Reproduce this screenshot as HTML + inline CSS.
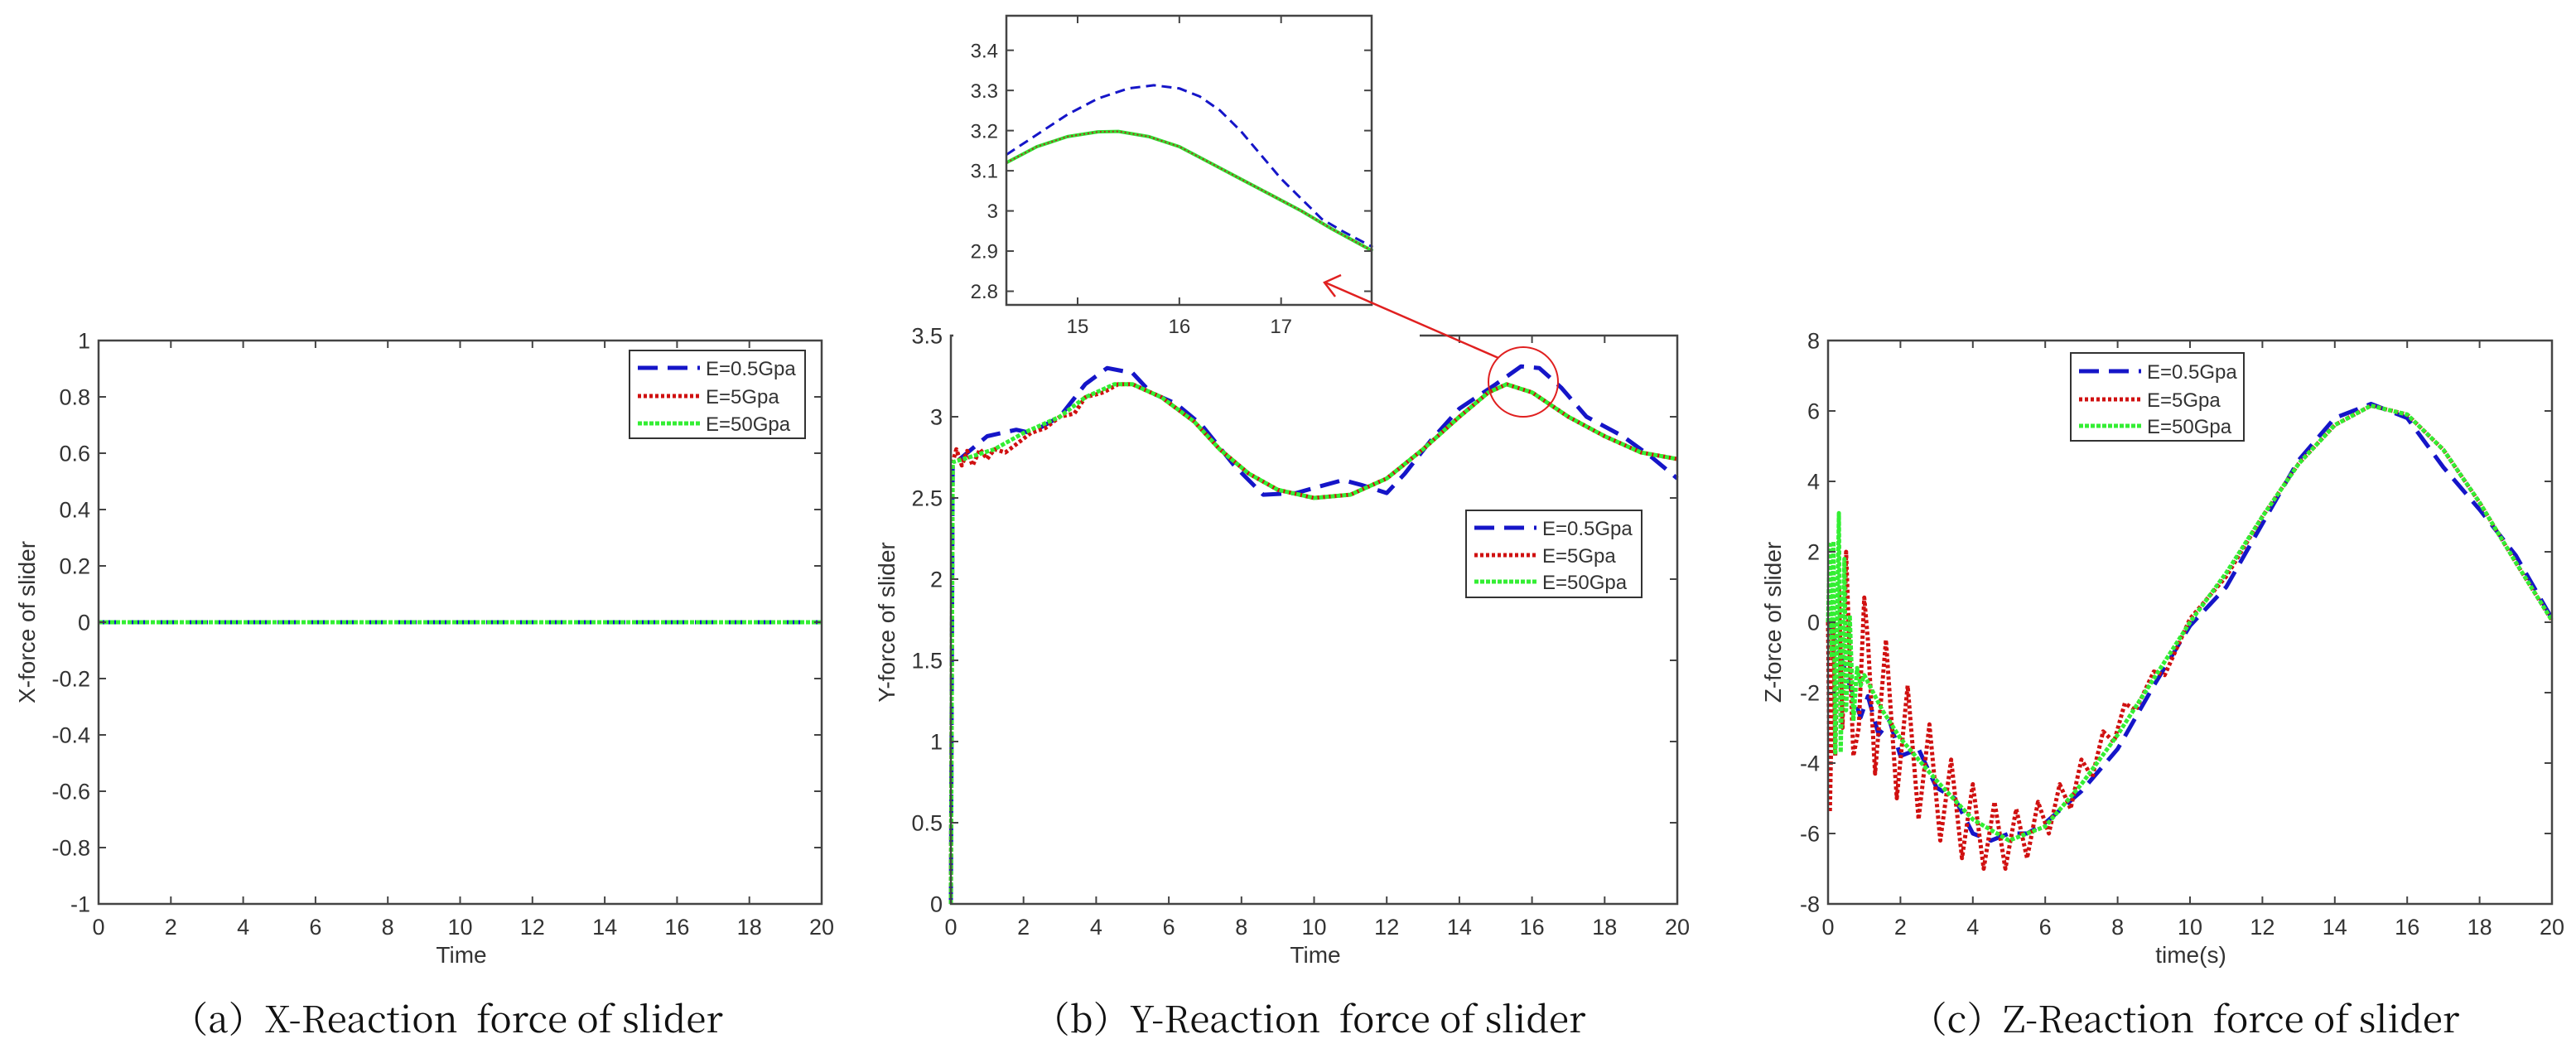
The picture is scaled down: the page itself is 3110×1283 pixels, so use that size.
<!DOCTYPE html>
<html><head><meta charset="utf-8">
<style>
html,body{margin:0;padding:0;background:#fff;}
svg{display:block;}
text{font-family:"Liberation Sans",sans-serif;fill:#333;}
.cap{font-family:"Noto Serif CJK SC","Liberation Serif",serif;fill:#111;white-space:pre;}
</style></head>
<body>
<svg id="fig" width="3110" height="1283" viewBox="0 0 3110 1283" xmlns="http://www.w3.org/2000/svg"></svg>
<script>
// ---------- data ----------
const xTicks = [0,2,4,6,8,10,12,14,16,18,20];
const aYTicks = [-1,-0.8,-0.6,-0.4,-0.2,0,0.2,0.4,0.6,0.8,1];
const bYTicks = [0,0.5,1,1.5,2,2.5,3,3.5];
const cYTicks = [-8,-6,-4,-2,0,2,4,6,8];
const insetXTicks = [15,16,17];
const insetYTicks = [2.8,2.9,3,3.1,3.2,3.3,3.4];
const legendLabels = ["E=0.5Gpa","E=5Gpa","E=50Gpa"];

const aT = [0,20];
const aBlue = [0,0];
const aRed = [0,0];
const aGreen = [0,0];

const bBlueT = [0,0.05,0.3,1,1.8,2.2,3,3.7,4.3,5,5.5,6.2,6.9,7.8,8.6,9.5,10.3,10.8,11.3,12,12.5,13.2,14,15,15.7,16.2,16.8,17.5,18.5,19.3,20];
const bBlue  = [0,2.7,2.75,2.88,2.92,2.9,3.0,3.2,3.3,3.27,3.15,3.08,2.95,2.7,2.52,2.53,2.58,2.61,2.58,2.53,2.65,2.85,3.05,3.2,3.31,3.3,3.18,3.0,2.88,2.75,2.62];
const bRedT = [0,0.05,0.15,0.3,0.45,0.6,0.8,1.0,1.2,1.5,1.8,2.2,2.6,3,3.4,3.7,4.2,4.6,5,5.8,6.7,7.4,8.2,9,10,11,12,13,14,14.8,15.3,16,17,18,19,20];
const bRed  = [0,2.72,2.8,2.7,2.79,2.7,2.8,2.74,2.8,2.78,2.83,2.9,2.93,3.0,3.02,3.12,3.15,3.2,3.2,3.12,2.97,2.8,2.65,2.55,2.5,2.52,2.62,2.8,3.0,3.15,3.2,3.15,3.0,2.88,2.78,2.74];
const bGreenT = [0,0.05,0.5,1.2,2,3,3.7,4.5,5,5.8,6.7,7.4,8.2,9,10,11,12,13,14,14.8,15.3,16,17,18,19,20];
const bGreen  = [0,2.72,2.75,2.8,2.9,3.0,3.12,3.2,3.2,3.12,2.97,2.8,2.65,2.55,2.5,2.52,2.62,2.8,3.0,3.15,3.2,3.15,3.0,2.88,2.78,2.74];

const insBlueT = [14.3,14.6,14.9,15.2,15.5,15.75,16,16.2,16.4,16.6,16.8,17.0,17.2,17.4,17.6,17.9];
const insBlue  = [3.14,3.19,3.24,3.28,3.305,3.313,3.305,3.285,3.25,3.2,3.14,3.08,3.03,2.98,2.95,2.91];
const insGreenT = [14.3,14.6,14.9,15.2,15.4,15.7,16,16.3,16.6,16.9,17.2,17.5,17.9];
const insGreen  = [3.12,3.16,3.185,3.197,3.198,3.185,3.16,3.12,3.08,3.04,3.0,2.955,2.90];

const cBlueT = [0,0.3,0.6,0.9,1.1,1.4,1.7,2,2.5,3,3.5,4,4.5,5,5.5,6,7,8,9,10,11,12,13,14,15,16,17,18,19,20];
const cBlue  = [0,-0.8,-1.8,-2.7,-2.1,-3.2,-2.8,-3.8,-3.6,-4.7,-5.0,-6.0,-6.2,-6.0,-6.0,-5.7,-4.8,-3.6,-1.8,-0.1,1.0,2.8,4.6,5.8,6.2,5.8,4.4,3.2,1.9,0.1];
const cRedT = [0,0.05,0.15,0.2,0.3,0.4,0.5,0.6,0.7,0.85,1.0,1.1,1.3,1.6,1.9,2.2,2.5,2.8,3.1,3.4,3.7,4.0,4.3,4.6,4.9,5.2,5.5,5.8,6.1,6.4,6.7,7.0,7.3,7.6,7.9,8.2,8.5,9,9.3,10,11,12,13,14,15,16,17,18,19,20];
const cRed  = [0,-5.4,0,-3.8,1,-3,2,-1,-3.8,-3,0.7,-0.5,-4.3,-0.5,-5,-1.8,-5.6,-2.9,-6.2,-3.9,-6.7,-4.6,-7.0,-5.1,-7.0,-5.3,-6.7,-5.1,-6.0,-4.6,-5.3,-3.9,-4.4,-3.1,-3.4,-2.3,-2.5,-1.4,-1.5,0.1,1.3,3.0,4.5,5.6,6.15,5.9,4.9,3.4,1.7,0.05];
const cGreenT = [0,0.05,0.1,0.15,0.2,0.3,0.35,0.45,0.5,0.6,0.7,0.8,0.9,1.0,1.5,2,3,4,5,6,7,8,9,10,11,12,13,14,15,16,17,18,19,20];
const cGreen  = [0,2.2,-1,2.3,-3.7,3.1,-3.7,1.8,-2.5,0.2,-2.8,-1.3,-1.8,-1.5,-2.5,-3.3,-4.5,-5.6,-6.2,-5.8,-4.6,-3.2,-1.6,0,1.4,3.0,4.5,5.6,6.15,5.9,4.9,3.4,1.7,0.05];

// ---------- helpers ----------
const NS = "http://www.w3.org/2000/svg";
const svg = document.getElementById("fig");
function mk(tag, attrs, parent){
  const e = document.createElementNS(NS, tag);
  for (const k in attrs) e.setAttribute(k, attrs[k]);
  (parent||svg).appendChild(e);
  return e;
}
const STY = {
  blue:{stroke:"#1515c8","stroke-width":5,"stroke-dasharray":"24 12"},
  red:{stroke:"#d01010","stroke-width":5,"stroke-dasharray":"4 3"},
  green:{stroke:"#33ee33","stroke-width":5,"stroke-dasharray":"5 2"}
};
function makeAxes(o){
  const sx = v => o.x0 + (v - o.xmin) / (o.xmax - o.xmin) * (o.x1 - o.x0);
  const sy = v => o.y1 - (v - o.ymin) / (o.ymax - o.ymin) * (o.y1 - o.y0);
  return {sx, sy};
}
function drawFrame(g, o, ax, xt, yt, fs){
  const box = mk("rect",{x:o.x0,y:o.y0,width:o.x1-o.x0,height:o.y1-o.y0,fill:"none",stroke:"#444","stroke-width":2.5}, g);
  
  
  xt.forEach(v=>{
    const x = ax.sx(v);
    mk("line",{x1:x,x2:x,y1:o.y1,y2:o.y1-9,stroke:"#444","stroke-width":2},g);
    mk("line",{x1:x,x2:x,y1:o.y0,y2:o.y0+9,stroke:"#444","stroke-width":2},g);
    const t = mk("text",{x:x,y:o.y1+fs+10,"font-size":fs,"text-anchor":"middle"},g);
    t.textContent = v;
    
    
  });
  yt.forEach(v=>{
    const y = ax.sy(v);
    mk("line",{x1:o.x0,x2:o.x0+9,y1:y,y2:y,stroke:"#444","stroke-width":2},g);
    mk("line",{x1:o.x1,x2:o.x1-9,y1:y,y2:y,stroke:"#444","stroke-width":2},g);
    const t = mk("text",{x:o.x0-10,y:y+fs*0.36,"font-size":fs,"text-anchor":"end"},g);
    t.textContent = v;
    
    
  });
}
function drawLine(g, ax, ts, vs, sty, name){
  const pts = ts.map((t,i)=>ax.sx(t).toFixed(1)+","+ax.sy(vs[i]).toFixed(1)).join(" ");
  const p = mk("polyline",Object.assign({points:pts,fill:"none","stroke-linejoin":"round"},sty),g);
  
  
}
function legend(g, x0, y0, w, h, rows){
  const r = mk("rect",{x:x0,y:y0,width:w,height:h,fill:"#fff",stroke:"#333","stroke-width":2},g);
  
  
  const keys=["blue","red","green"];
  rows.forEach((yy,i)=>{
    mk("line",Object.assign({x1:x0+10,x2:x0+85,y1:yy,y2:yy},STY[keys[i]]),g);
    const t = mk("text",{x:x0+92,y:yy+9,"font-size":24},g);
    t.textContent = legendLabels[i];
    
    
  });
}
function label(g,txt,x,y,fs,rot,name,cls){
  const t = mk("text",{x:x,y:y,"font-size":fs,"text-anchor":"middle"},g);
  if (rot) t.setAttribute("transform","rotate(-90 "+x+" "+y+")");
  if (cls) t.setAttribute("class",cls);
  t.textContent = txt;
  
  
}

// ---------- panel a ----------
const gA = mk("g",{});


const oA = {x0:119,x1:992,y0:411,y1:1091,xmin:0,xmax:20,ymin:-1,ymax:1};
const axA = makeAxes(oA);
drawLine(gA,axA,aT,aBlue,STY.blue,"series-e05");
drawLine(gA,axA,aT,aRed,STY.red,"series-e5");
drawLine(gA,axA,aT,aGreen,STY.green,"series-e50");
drawFrame(gA,oA,axA,xTicks,aYTicks,27);
legend(gA,760,423,212,106,[444,478,511]);
label(gA,"X-force of slider",42,751,28,true,"y-axis-title");
label(gA,"Time",557,1162,28,false,"x-axis-title");
label(gA,"（a）X-Reaction  force of slider",540,1246,44,false,"caption-a","cap");

// ---------- panel b ----------
const gB = mk("g",{});


const oB = {x0:1148,x1:2025,y0:405,y1:1091,xmin:0,xmax:20,ymin:0,ymax:3.5};
const axB = makeAxes(oB);
drawLine(gB,axB,bBlueT,bBlue,STY.blue,"series-e05");
drawLine(gB,axB,bRedT,bRed,STY.red,"series-e5");
drawLine(gB,axB,bGreenT,bGreen,STY.green,"series-e50");
drawFrame(gB,oB,axB,xTicks,bYTicks,27);
legend(gB,1770,616,212,105,[637,670,702]);
label(gB,"Y-force of slider",1080,751,28,true,"y-axis-title");
label(gB,"Time",1588,1162,28,false,"x-axis-title");
label(gB,"（b）Y-Reaction  force of slider",1581,1246,44,false,"caption-b","cap");
// white cover where inset figure overlaps
mk("rect",{x:1151,y:0,width:563,height:416,fill:"#fff"},gB);

const circ = mk("circle",{cx:1839,cy:461,r:42,fill:"none",stroke:"#e02020","stroke-width":2},gB);



// inset
const gI = mk("g",{});


const oI = {x0:1215,x1:1656,y0:19,y1:368,xmin:14.3,xmax:17.89,ymin:2.766,ymax:3.486};
const axI = makeAxes(oI);
drawLine(gI,axI,insBlueT,insBlue,Object.assign({},STY.blue,{"stroke-width":3,"stroke-dasharray":"12 7"}),"inset-e05");
drawLine(gI,axI,insGreenT,insGreen,{stroke:"#33dd33","stroke-width":4},"inset-e50");
drawLine(gI,axI,insGreenT,insGreen,{stroke:"#b03020","stroke-width":2,"stroke-dasharray":"2 3"},"inset-e5");
drawFrame(gI,oI,axI,insetXTicks,insetYTicks,24);

// arrow
const arr = mk("line",{x1:1809,y1:432,x2:1600,y2:341,stroke:"#e02020","stroke-width":2.5});


mk("polyline",{points:"1619,332 1599,341 1612,358",fill:"none",stroke:"#e02020","stroke-width":2.5});

// ---------- panel c ----------
const gC = mk("g",{});


const oC = {x0:2207,x1:3081,y0:411,y1:1091,xmin:0,xmax:20,ymin:-8,ymax:8};
const axC = makeAxes(oC);
drawLine(gC,axC,cBlueT,cBlue,STY.blue,"series-e05");
drawLine(gC,axC,cRedT,cRed,STY.red,"series-e5");
drawLine(gC,axC,cGreenT,cGreen,STY.green,"series-e50");
drawFrame(gC,oC,axC,xTicks,cYTicks,27);
legend(gC,2500,426,209,106,[448,482,514]);
label(gC,"Z-force of slider",2150,751,28,true,"y-axis-title");
label(gC,"time(s)",2645,1162,28,false,"x-axis-title");
label(gC,"（c）Z-Reaction  force of slider",2638,1246,44,false,"caption-c","cap");
</script>
</body></html>
